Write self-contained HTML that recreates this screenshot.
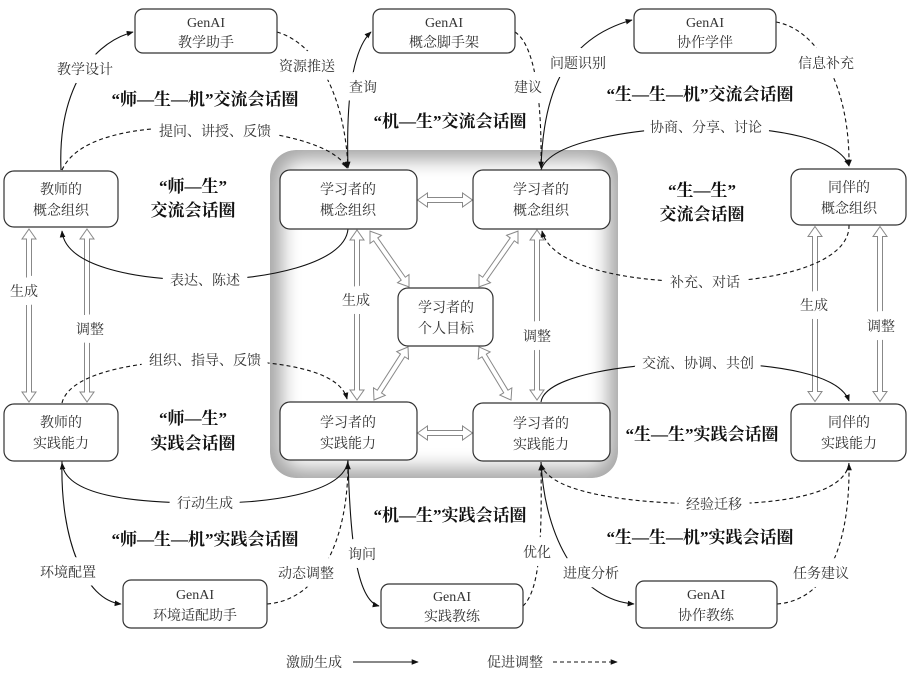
<!DOCTYPE html>
<html><head><meta charset="utf-8"><style>
html,body{margin:0;padding:0;background:#fff}
svg{display:block}
text{font-family:"Liberation Serif","Noto Serif CJK SC",serif;fill:#333}
.b{font-size:14px;text-anchor:middle}
.l{font-size:14px;text-anchor:middle;stroke:#fff;stroke-width:16;paint-order:stroke;stroke-linejoin:round}
.t{font-size:17px;font-weight:bold;text-anchor:middle;fill:#111;font-family:"Liberation Serif","Noto Serif CJK SC",serif}
.box{fill:#fff;stroke:#333;stroke-width:1.2}
.s{fill:none;stroke:#111;stroke-width:1.1;marker-end:url(#ar)}
.d{fill:none;stroke:#111;stroke-width:1.1;stroke-dasharray:4 3;marker-end:url(#ar)}
.h{fill:#fff;stroke:#888;stroke-width:1}
</style></head><body>
<svg width="914" height="673" viewBox="0 0 914 673" xmlns="http://www.w3.org/2000/svg">
<defs>
<marker id="ar" viewBox="0 0 10 10" refX="9" refY="5" markerWidth="7" markerHeight="7" orient="auto-start-reverse" markerUnits="userSpaceOnUse"><path d="M0,1 L10,5 L0,9 Z" fill="#111"/></marker>
<filter id="bl" x="-20%" y="-20%" width="140%" height="140%"><feGaussianBlur stdDeviation="9"/></filter>
<clipPath id="pc"><rect x="270" y="150" width="348" height="328" rx="26"/></clipPath>
</defs>
<g clip-path="url(#pc)">
<rect x="270" y="150" width="348" height="328" rx="26" fill="#a8a8a8"/>
<rect x="282" y="160" width="326" height="308" rx="20" fill="#fff" filter="url(#bl)"/>
</g>

<g class="h">
<polygon transform="translate(29,315.5) rotate(90)" points="-86.5,0 -76.5,-7 -76.5,-2.5 76.5,-2.5 76.5,-7 86.5,0 76.5,7 76.5,2.5 -76.5,2.5 -76.5,7"/>
<polygon transform="translate(87,315.5) rotate(90)" points="-86.5,0 -76.5,-7 -76.5,-2.5 76.5,-2.5 76.5,-7 86.5,0 76.5,7 76.5,2.5 -76.5,2.5 -76.5,7"/>
<polygon transform="translate(815,314) rotate(90)" points="-87.5,0 -77.5,-7 -77.5,-2.5 77.5,-2.5 77.5,-7 87.5,0 77.5,7 77.5,2.5 -77.5,2.5 -77.5,7"/>
<polygon transform="translate(880,314) rotate(90)" points="-87.5,0 -77.5,-7 -77.5,-2.5 77.5,-2.5 77.5,-7 87.5,0 77.5,7 77.5,2.5 -77.5,2.5 -77.5,7"/>
<polygon transform="translate(357,315) rotate(90)" points="-85,0 -75,-7 -75,-2.5 75,-2.5 75,-7 85,0 75,7 75,2.5 -75,2.5 -75,7"/>
<polygon transform="translate(537,315) rotate(90)" points="-85,0 -75,-7 -75,-2.5 75,-2.5 75,-7 85,0 75,7 75,2.5 -75,2.5 -75,7"/>
<polygon transform="translate(445,200)" points="-27.5,0 -17.5,-7 -17.5,-2.5 17.5,-2.5 17.5,-7 27.5,0 17.5,7 17.5,2.5 -17.5,2.5 -17.5,7"/>
<polygon transform="translate(445,433)" points="-27.5,0 -17.5,-7 -17.5,-2.5 17.5,-2.5 17.5,-7 27.5,0 17.5,7 17.5,2.5 -17.5,2.5 -17.5,7"/>
<polygon transform="translate(389.5,259) rotate(55)" points="-34,0 -24,-7 -24,-2.5 24,-2.5 24,-7 34,0 24,7 24,2.5 -24,2.5 -24,7"/>
<polygon transform="translate(498.5,259) rotate(125)" points="-34,0 -24,-7 -24,-2.5 24,-2.5 24,-7 34,0 24,7 24,2.5 -24,2.5 -24,7"/>
<polygon transform="translate(391,373.5) rotate(122.7)" points="-31.5,0 -21.5,-7 -21.5,-2.5 21.5,-2.5 21.5,-7 31.5,0 21.5,7 21.5,2.5 -21.5,2.5 -21.5,7"/>
<polygon transform="translate(495,373.5) rotate(58.9)" points="-31,0 -21,-7 -21,-2.5 21,-2.5 21,-7 31,0 21,7 21,2.5 -21,2.5 -21,7"/>
</g>

<path class="s" d="M61,170 C58,100 85,45 133,32"/>
<path class="d" d="M277,32 C320,45 345,100 348,168"/>
<path class="d" d="M62,170 C80,130 160,125 215,128 C280,131 335,145 347,168"/>
<path class="s" d="M348,168 C346,100 352,50 371,32"/>
<path class="d" d="M515,32 C535,45 542,100 541,168"/>
<path class="s" d="M541,168 C543,100 560,40 632,20"/>
<path class="d" d="M776,22 C820,30 850,90 849,166"/>
<path class="s" d="M541,170 C550,140 640,128 706,127 C780,127 840,140 849,166"/>
<path class="s" d="M348,229 C345,265 260,280 205,280 C130,280 65,265 62,231"/>
<path class="d" d="M849,225 C850,265 770,282 705,282 C620,282 550,265 542,231"/>
<path class="d" d="M62,403 C70,370 150,360 205,360 C280,360 340,370 347,399"/>
<path class="s" d="M541,402 C545,375 630,363 698,363 C780,363 840,375 849,401"/>
<path class="s" d="M348,460 C345,495 260,504 205,503 C130,503 65,495 62,463"/>
<path class="d" d="M849,463 C845,495 780,504 714,504 C640,504 550,495 541,464"/>
<path class="s" d="M62,461 C60,540 85,600 121,604"/>
<path class="d" d="M267,604 C320,600 348,540 348,463"/>
<path class="s" d="M348,461 C350,530 355,600 379,606"/>
<path class="d" d="M523,606 C540,590 542,540 541,464"/>
<path class="s" d="M541,462 C545,540 580,600 634,604"/>
<path class="d" d="M777,604 C830,600 850,540 849,464"/>
<path class="s" d="M353,662 L418,662"/>
<path class="d" d="M553,662 L617,662"/>

<rect class="box" x="135" y="9" width="142" height="44" rx="8"/>
<text class="b" x="206" y="27">GenAI</text><text class="b" x="206" y="47">教学助手</text>
<rect class="box" x="373" y="9" width="142" height="44" rx="8"/>
<text class="b" x="444" y="27">GenAI</text><text class="b" x="444" y="47">概念脚手架</text>
<rect class="box" x="634" y="9" width="142" height="44" rx="8"/>
<text class="b" x="705" y="27">GenAI</text><text class="b" x="705" y="47">协作学伴</text>

<rect class="box" x="4" y="171" width="114" height="56" rx="10"/>
<text class="b" x="61" y="194">教师的</text><text class="b" x="61" y="215">概念组织</text>
<rect class="box" x="280" y="170" width="137" height="59" rx="10"/>
<text class="b" x="348" y="194">学习者的</text><text class="b" x="348" y="215">概念组织</text>
<rect class="box" x="473" y="170" width="137" height="59" rx="10"/>
<text class="b" x="541" y="194">学习者的</text><text class="b" x="541" y="215">概念组织</text>
<rect class="box" x="791" y="169" width="115" height="56" rx="10"/>
<text class="b" x="849" y="192">同伴的</text><text class="b" x="849" y="213">概念组织</text>

<rect class="box" x="398" y="288" width="95" height="58" rx="10"/>
<text class="b" x="446" y="312">学习者的</text><text class="b" x="446" y="333">个人目标</text>

<rect class="box" x="4" y="404" width="114" height="57" rx="10"/>
<text class="b" x="61" y="427">教师的</text><text class="b" x="61" y="448">实践能力</text>
<rect class="box" x="280" y="402" width="137" height="58" rx="10"/>
<text class="b" x="348" y="427">学习者的</text><text class="b" x="348" y="448">实践能力</text>
<rect class="box" x="473" y="403" width="137" height="58" rx="10"/>
<text class="b" x="541" y="428">学习者的</text><text class="b" x="541" y="449">实践能力</text>
<rect class="box" x="791" y="404" width="115" height="57" rx="10"/>
<text class="b" x="849" y="427">同伴的</text><text class="b" x="849" y="448">实践能力</text>

<rect class="box" x="123" y="580" width="144" height="48" rx="8"/>
<text class="b" x="195" y="599">GenAI</text><text class="b" x="195" y="620">环境适配助手</text>
<rect class="box" x="381" y="584" width="142" height="44" rx="8"/>
<text class="b" x="452" y="601">GenAI</text><text class="b" x="452" y="621">实践教练</text>
<rect class="box" x="636" y="581" width="141" height="47" rx="8"/>
<text class="b" x="706" y="599">GenAI</text><text class="b" x="706" y="620">协作教练</text>

<text class="l" x="85" y="74">教学设计</text>
<text class="l" x="307" y="71">资源推送</text>
<text class="l" x="215" y="136">提问、讲授、反馈</text>
<text class="l" x="363" y="92">查询</text>
<text class="l" x="528" y="92">建议</text>
<text class="l" x="578" y="68">问题识别</text>
<text class="l" x="826" y="68">信息补充</text>
<text class="l" x="706" y="132">协商、分享、讨论</text>
<text class="l" x="205" y="285">表达、陈述</text>
<text class="l" x="705" y="287">补充、对话</text>
<text class="l" x="24" y="296">生成</text>
<text class="l" x="90" y="334">调整</text>
<text class="l" x="356" y="305">生成</text>
<text class="l" x="537" y="341">调整</text>
<text class="l" x="814" y="310">生成</text>
<text class="l" x="881" y="331">调整</text>
<text class="l" x="205" y="365">组织、指导、反馈</text>
<text class="l" x="698" y="368">交流、协调、共创</text>
<text class="l" x="205" y="508">行动生成</text>
<text class="l" x="714" y="509">经验迁移</text>
<text class="l" x="68" y="577">环境配置</text>
<text class="l" x="306" y="578">动态调整</text>
<text class="l" x="362" y="559">询问</text>
<text class="l" x="537" y="557">优化</text>
<text class="l" x="591" y="578">进度分析</text>
<text class="l" x="821" y="578">任务建议</text>
<text class="l" x="314" y="667">激励生成</text>
<text class="l" x="515" y="667">促进调整</text>

<text class="t" x="205" y="105">“师—生—机”交流会话圈</text>
<text class="t" x="450" y="127">“机—生”交流会话圈</text>
<text class="t" x="700" y="100">“生—生—机”交流会话圈</text>
<text class="t" x="193" y="192">“师—生”</text>
<text class="t" x="193" y="216">交流会话圈</text>
<text class="t" x="702" y="196">“生—生”</text>
<text class="t" x="702" y="220">交流会话圈</text>
<text class="t" x="193" y="424">“师—生”</text>
<text class="t" x="193" y="449">实践会话圈</text>
<text class="t" x="702" y="440">“生—生”实践会话圈</text>
<text class="t" x="205" y="545">“师—生—机”实践会话圈</text>
<text class="t" x="450" y="521">“机—生”实践会话圈</text>
<text class="t" x="700" y="543">“生—生—机”实践会话圈</text>
</svg>
</body></html>
